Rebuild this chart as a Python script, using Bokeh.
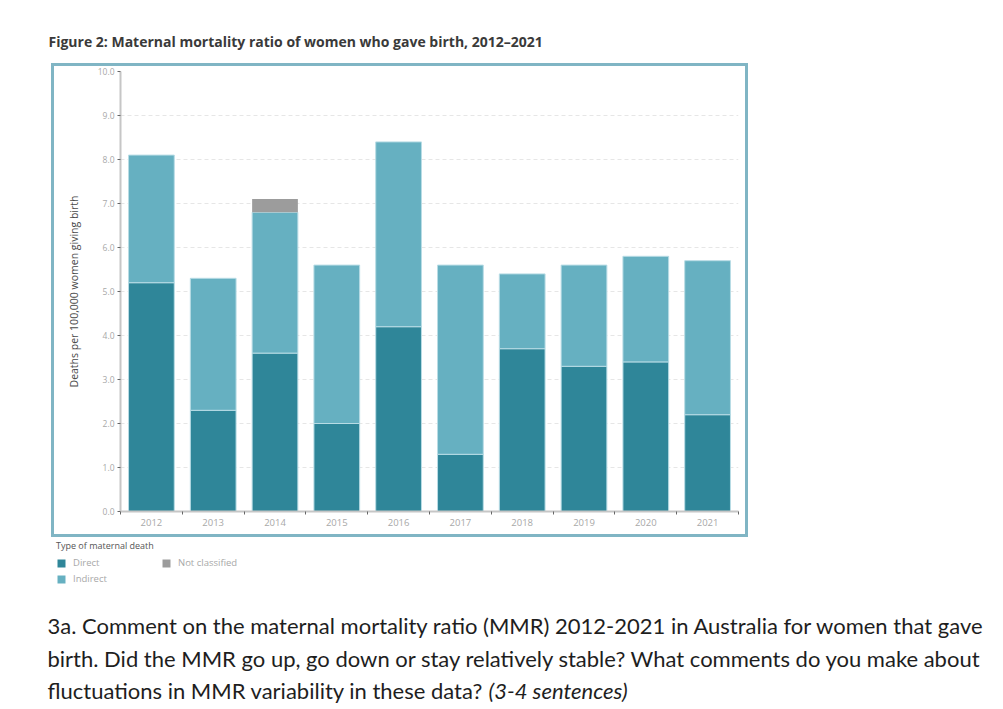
from bokeh.plotting import figure
from bokeh.layouts import column, row
from bokeh.models import (ColumnDataSource, FixedTicker, Label, Legend, LegendItem,
                          Range1d, PrintfTickFormatter, Spacer)
from bokeh.embed import file_html
from bokeh.resources import INLINE

years = ["2012", "2013", "2014", "2015", "2016", "2017", "2018", "2019", "2020", "2021"]
direct = [5.2, 2.3, 3.6, 2.0, 4.2, 1.3, 3.7, 3.3, 3.4, 2.2]
indirect = [2.9, 3.0, 3.2, 3.6, 4.2, 4.3, 1.7, 2.3, 2.4, 3.5]
not_classified = [0, 0, 0.3, 0, 0, 0, 0, 0, 0, 0]
y_ticks = [0, 1, 2, 3, 4, 5, 6, 7, 8, 9, 10]
series_names = ["Direct", "Indirect", "Not classified"]
series_colors = ["#2f8699", "#66b0c1", "#9c9c9c"]

title_text = "Figure 2: Maternal mortality ratio of women who gave birth, 2012\u20132021"
y_label = "Deaths per 100,000 women giving birth"
legend_title = "Type of maternal death"
q_lines = [
    "3a. Comment on the maternal mortality ratio (MMR) 2012-2021 in Australia for women that gave",
    "birth. Did the MMR go up, go down or stay relatively stable? What comments do you make about",
    "fluctuations in MMR variability in these data?",
]
q_italic = "(3-4 sentences)"

BOX = "#80b5c4"


def blank(width, height):
    f = figure(width=width, height=height, output_backend="svg", toolbar_location=None,
               x_axis_type=None, y_axis_type=None, x_range=Range1d(0, 1), y_range=Range1d(0, 1),
               min_border_left=0, min_border_right=0, min_border_top=0, min_border_bottom=0)
    f.outline_line_color = None
    f.background_fill_color = "white"
    f.border_fill_color = "white"
    return f


def edge(w, h):
    return Spacer(width=w, height=h, styles={"background-color": BOX})


# ---- title strip
top = blank(987, 63)
top.add_layout(Label(x=48, y=22, x_units="screen", y_units="screen", text=title_text,
                     text_font="Open Sans", text_font_style="bold", text_font_size="14px",
                     text_color="#3a3a3a", text_baseline="middle"))

# ---- chart (the boxed part)
centers = [i + 0.5 for i in range(len(years))]
src = ColumnDataSource(dict(x=centers, direct=direct, indirect=indirect, nc=not_classified))

p = figure(width=691, height=468, output_backend="svg", toolbar_location=None,
           x_range=Range1d(0, len(years)), y_range=Range1d(0, 10),
           min_border_left=66, min_border_right=7, min_border_top=5, min_border_bottom=23)
p.outline_line_color = None
p.background_fill_color = "white"
p.border_fill_color = "white"

rs = p.vbar_stack(["direct", "indirect", "nc"], x="x", width=0.74, source=src,
                  color=series_colors, line_color=["#b8dce5", "#b8dce5", None],
                  line_width=1)

ya = p.yaxis[0]
ya.ticker = FixedTicker(ticks=y_ticks)
ya.formatter = PrintfTickFormatter(format="%.1f")
ya.major_label_text_font_size = "8.5px"
ya.major_label_text_color = "#a8a8a8"
ya.major_label_text_font = "Open Sans"
ya.axis_line_color = "#c6c6c6"
ya.axis_line_width = 2
ya.major_tick_line_color = "#666666"
ya.major_tick_out = 3
ya.major_tick_in = 0
ya.minor_tick_line_color = None
ya.major_label_standoff = 3
ya.axis_label = y_label
ya.axis_label_text_font_size = "10.5px"
ya.axis_label_text_font_style = "normal"
ya.axis_label_text_color = "#4a4a4a"
ya.axis_label_text_font = "Open Sans"
ya.axis_label_standoff = 14

xa = p.xaxis[0]
xa.ticker = FixedTicker(ticks=centers, minor_ticks=list(range(len(years) + 1)))
xa.major_label_overrides = {c: y for c, y in zip(centers, years)}
xa.major_label_text_font_size = "9.5px"
xa.major_label_text_color = "#a8a8a8"
xa.major_label_text_font = "Open Sans"
xa.axis_line_color = "#c6c6c6"
xa.axis_line_width = 2
xa.major_tick_line_color = None
xa.major_tick_out = 0
xa.major_tick_in = 0
xa.minor_tick_line_color = "#666666"
xa.minor_tick_out = 3
xa.minor_tick_in = 0
xa.major_label_standoff = 4

p.xgrid.grid_line_color = None
p.ygrid.grid_line_color = "#e6e6e6"
p.ygrid.grid_line_dash = "4 3"

boxed = column(edge(697, 3), row(edge(3, 468), p, edge(3, 468), spacing=0), edge(697, 3),
               spacing=0)
chart_row = row(Spacer(width=51, height=474), boxed, Spacer(width=239, height=474), spacing=0)

# ---- bottom strip: legend + question
bot = blank(987, 168)
swatches = [bot.vbar(x=[0], top=[0], width=0, fill_color=c, line_color=None)
            for c in series_colors]
items = [LegendItem(label=n, renderers=[r]) for n, r in zip(series_names, swatches)]
legend = Legend(items=items, location=(56, 120), orientation="vertical", nrows=2,
                title=legend_title, title_text_font_size="9px", title_text_color="#555555",
                title_text_font="Open Sans", title_text_font_style="normal", title_standoff=4,
                label_text_font_size="9.5px", label_text_color="#a8a8a8", label_text_font="Open Sans",
                glyph_width=10, glyph_height=10, label_standoff=7, label_width=85, label_height=9,
                spacing=3, padding=0, margin=0, border_line_color=None, background_fill_alpha=0)
bot.add_layout(legend)

ys = [80, 47, 15]
for t, yy in zip(q_lines, ys):
    bot.add_layout(Label(x=47, y=yy, x_units="screen", y_units="screen", text=t,
                         text_font="Lato", text_font_size="22px", text_color="#1e1e1e",
                         text_baseline="middle"))
bot.add_layout(Label(x=488, y=ys[2], x_units="screen", y_units="screen", text=q_italic,
                     text_font="Lato", text_font_style="italic", text_font_size="22px",
                     text_color="#1e1e1e", text_baseline="middle"))

layout = column(top, chart_row, bot, spacing=0)
open("out.html", "w").write(file_html(layout, INLINE))
